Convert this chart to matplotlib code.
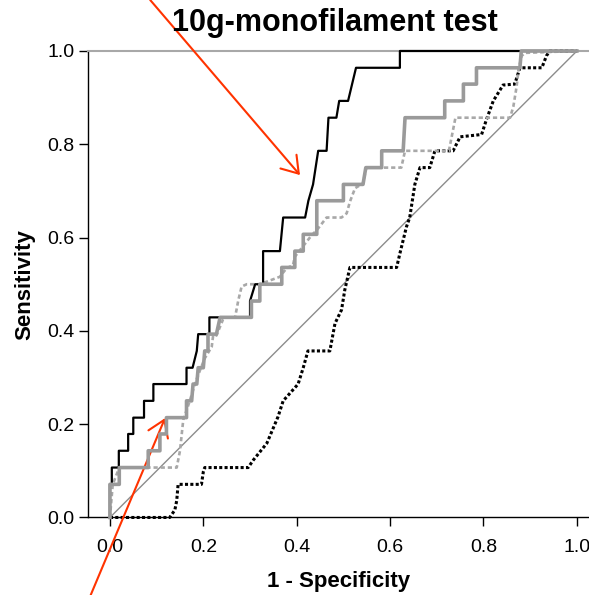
import matplotlib.pyplot as plt

plt.rcParams['font.family'] = ['Liberation Sans', 'DejaVu Sans']

# ROC curves (1 - specificity, sensitivity)
black_fpr = [0.000, 0.000, 0.004, 0.004, 0.019, 0.019, 0.039, 0.039, 0.050, 0.050,
             0.073, 0.073, 0.093, 0.093, 0.164, 0.164, 0.177, 0.186, 0.189, 0.213,
             0.213, 0.300, 0.300, 0.311, 0.328, 0.328, 0.364, 0.371, 0.418, 0.425,
             0.435, 0.446, 0.464, 0.468, 0.485, 0.491, 0.510, 0.527, 0.621, 0.621, 1.000]
black_tpr = [0.000, 0.071, 0.071, 0.107, 0.107, 0.143, 0.143, 0.179, 0.179, 0.214,
             0.214, 0.250, 0.250, 0.286, 0.286, 0.321, 0.321, 0.357, 0.393, 0.393,
             0.429, 0.429, 0.464, 0.500, 0.500, 0.571, 0.571, 0.643, 0.643, 0.679,
             0.714, 0.786, 0.786, 0.857, 0.857, 0.893, 0.893, 0.964, 0.964, 1.000, 1.000]

gray_fpr = [0.000, 0.000, 0.020, 0.020, 0.082, 0.082, 0.107, 0.107, 0.121, 0.121,
            0.164, 0.164, 0.175, 0.178, 0.186, 0.189, 0.200, 0.203, 0.210, 0.210,
            0.228, 0.236, 0.303, 0.303, 0.321, 0.321, 0.368, 0.368, 0.396, 0.396,
            0.414, 0.414, 0.443, 0.443, 0.500, 0.500, 0.542, 0.548, 0.582, 0.582,
            0.628, 0.632, 0.717, 0.717, 0.757, 0.757, 0.785, 0.785, 0.878, 0.881, 1.000]
gray_tpr = [0.000, 0.071, 0.071, 0.107, 0.107, 0.143, 0.143, 0.179, 0.179, 0.214,
            0.214, 0.250, 0.250, 0.286, 0.286, 0.321, 0.321, 0.357, 0.357, 0.393,
            0.393, 0.429, 0.429, 0.464, 0.464, 0.500, 0.500, 0.536, 0.536, 0.571,
            0.571, 0.607, 0.607, 0.679, 0.679, 0.714, 0.714, 0.750, 0.750, 0.786,
            0.786, 0.857, 0.857, 0.893, 0.893, 0.929, 0.929, 0.964, 0.964, 1.000, 1.000]

gdot_fpr = [0.000, 0.006, 0.020, 0.143, 0.150, 0.157, 0.171, 0.182, 0.193, 0.203,
            0.218, 0.221, 0.228, 0.242, 0.249, 0.268, 0.275, 0.282, 0.293, 0.321,
            0.364, 0.378, 0.392, 0.396, 0.407, 0.432, 0.443, 0.464, 0.496, 0.507,
            0.514, 0.525, 0.542, 0.549, 0.624, 0.632, 0.726, 0.740, 0.857, 0.864,
            0.871, 0.875, 0.882, 0.890, 1.000]
gdot_tpr = [0.000, 0.071, 0.107, 0.107, 0.143, 0.209, 0.250, 0.286, 0.316, 0.341,
            0.366, 0.390, 0.390, 0.424, 0.429, 0.429, 0.466, 0.495, 0.500, 0.500,
            0.516, 0.534, 0.541, 0.559, 0.573, 0.605, 0.616, 0.643, 0.643, 0.652,
            0.677, 0.706, 0.716, 0.750, 0.750, 0.786, 0.786, 0.857, 0.857, 0.881,
            0.924, 0.960, 0.990, 0.996, 1.000]

bdot_fpr = [0.000, 0.128, 0.139, 0.143, 0.146, 0.196, 0.200, 0.203, 0.296, 0.307,
            0.336, 0.360, 0.371, 0.403, 0.414, 0.424, 0.471, 0.482, 0.496, 0.503,
            0.514, 0.614, 0.621, 0.635, 0.642, 0.649, 0.653, 0.664, 0.685, 0.696,
            0.735, 0.750, 0.796, 0.806, 0.821, 0.842, 0.867, 0.878, 0.925, 0.935,
            0.942, 1.000]
bdot_tpr = [0.000, 0.000, 0.016, 0.036, 0.071, 0.071, 0.098, 0.107, 0.107, 0.123,
            0.159, 0.216, 0.250, 0.286, 0.321, 0.357, 0.357, 0.416, 0.445, 0.488,
            0.536, 0.536, 0.566, 0.623, 0.643, 0.688, 0.714, 0.750, 0.750, 0.786,
            0.786, 0.816, 0.821, 0.852, 0.893, 0.927, 0.929, 0.964, 0.964, 0.990,
            1.000, 1.000]

ref_line = [0.0, 1.0]
ticks = [0.0, 0.2, 0.4, 0.6, 0.8, 1.0]

fig = plt.figure(figsize=(5.89, 5.95), dpi=100)
ax = fig.add_axes([0.1494, 0.1303, 0.8506, 0.784])

ax.plot(ref_line, ref_line, color='#8c8c8c', lw=1.0, zorder=2)
ax.plot(bdot_fpr, bdot_tpr, color='black', lw=2.2, linestyle=(0, (1, 0.75)),
        clip_on=False, zorder=3)
ax.plot(gdot_fpr, gdot_tpr, color='#a8a8a8', lw=1.9, linestyle=(0, (1.6, 1.1)),
        clip_on=False, zorder=4)
ax.plot(black_fpr, black_tpr, color='black', lw=1.6, clip_on=False, zorder=5)
ax.plot(gray_fpr, gray_tpr, color='#9a9a9a', lw=2.6, clip_on=False, zorder=6)

ax.set_xlim(-0.047, 1.026)
ax.set_ylim(0, 1)
ax.set_xticks(ticks)
ax.set_yticks(ticks)
ax.set_xticklabels([f'{t:.1f}' for t in ticks])
ax.set_yticklabels([f'{t:.1f}' for t in ticks])
ax.tick_params(direction='out', length=6.5, width=1, labelsize=14)
ax.tick_params(axis='x', pad=9)
ax.tick_params(axis='y', pad=3)

ax.spines['right'].set_visible(False)
ax.spines['top'].set_color('#a8a8a8')
ax.spines['top'].set_linewidth(1.5)
ax.spines['left'].set_linewidth(1)
ax.spines['bottom'].set_linewidth(1)

ax.set_xlabel('1 - Specificity', fontsize=16, fontweight='bold', labelpad=11)
ax.set_ylabel('Sensitivity', fontsize=16, fontweight='bold', labelpad=9)
fig.text(0.568, 0.961, '10g-monofilament test', fontsize=22, fontweight='bold',
         ha='center', va='center')

# red pointer arrows
ax.annotate('', xy=(0.407, 0.734), xycoords='data',
            xytext=(0.255, 1.0), textcoords='figure fraction',
            arrowprops=dict(arrowstyle='->,head_length=0.6,head_width=0.4',
                            mutation_scale=19, color='#ff3300', lw=1.5,
                            shrinkA=0, shrinkB=0), annotation_clip=False)
ax.annotate('', xy=(0.118, 0.213), xycoords='data',
            xytext=(0.154, 0.0), textcoords='figure fraction',
            arrowprops=dict(arrowstyle='->,head_length=0.6,head_width=0.4',
                            mutation_scale=19, color='#ff3300', lw=1.5,
                            shrinkA=0, shrinkB=0), annotation_clip=False)

fig.savefig('out.png', dpi=100)
